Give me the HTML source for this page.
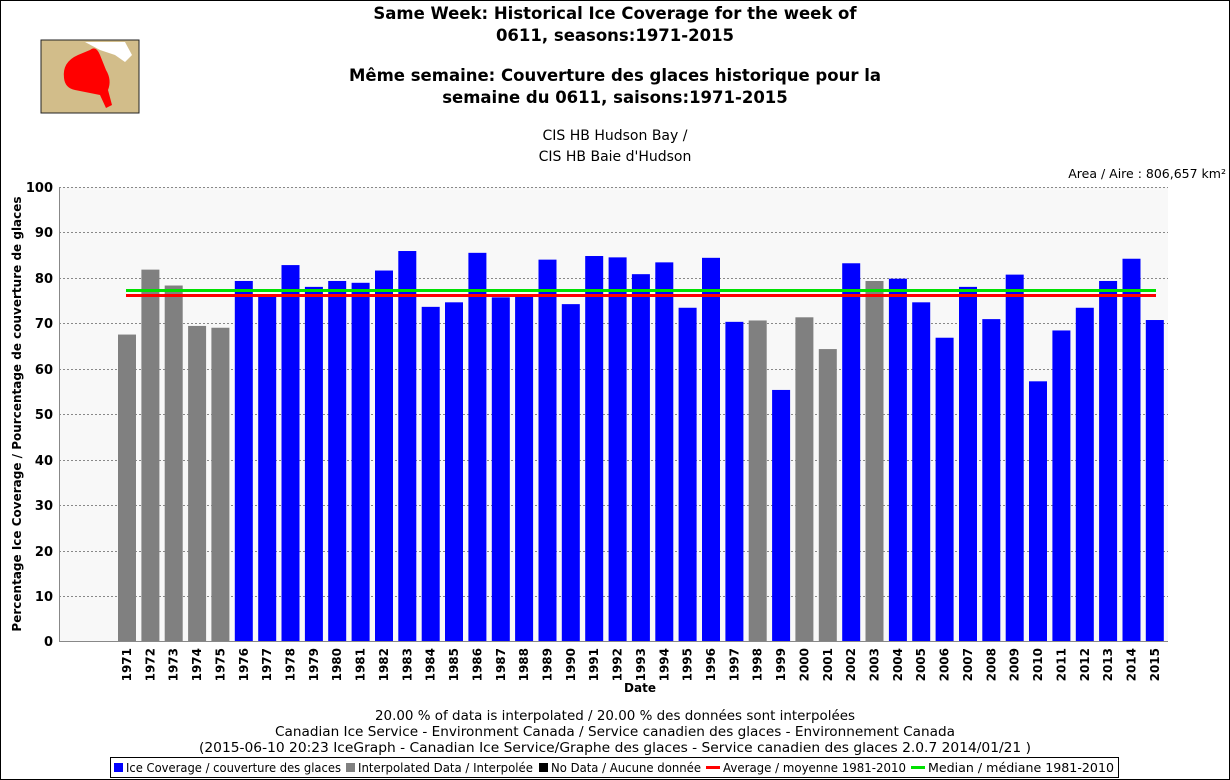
<!DOCTYPE html>
<html><head><meta charset="utf-8"><style>
html,body{margin:0;padding:0;background:#fff;}
svg{display:block;font-family:"DejaVu Sans","Liberation Sans",sans-serif;}
</style></head><body>
<svg width="1230" height="780" viewBox="0 0 1230 780" xmlns="http://www.w3.org/2000/svg">
<rect x="0.5" y="0.5" width="1229" height="779" fill="#fff" stroke="#000"/>
<!-- map icon -->
<rect x="41" y="40" width="98" height="73" fill="#d2bd8a" stroke="#222"/>
<path d="M64 78 Q62 62 78 55 L90 50 Q96 45 100 55 L106 70 Q112 80 108 90 L112 105 L106 108 L100 95 Q85 92 75 90 Q65 88 64 78Z" fill="#f00"/>
<path d="M85 42 L125 42 L132 55 L125 62 L115 55 L100 50 Z" fill="#fff"/>
<!-- titles -->
<g font-weight="bold" font-size="16.5" text-anchor="middle" fill="#000">
<text x="615" y="19">Same Week: Historical Ice Coverage for the week of</text>
<text x="615" y="41">0611, seasons:1971-2015</text>
<text x="615" y="81">Même semaine: Couverture des glaces historique pour la</text>
<text x="615" y="103">semaine du 0611, saisons:1971-2015</text>
</g>
<g font-size="14" text-anchor="middle" fill="#000">
<text x="615" y="140">CIS HB Hudson Bay /</text>
<text x="615" y="161">CIS HB Baie d'Hudson</text>
</g>
<text x="1226" y="178" font-size="12.5" text-anchor="end">Area / Aire : 806,657 km²</text>
<!-- plot -->
<rect x="59" y="187" width="1109" height="454" fill="#f8f8f8"/>
<g stroke="#888" stroke-dasharray="2,2" stroke-width="1">
<line x1="59" x2="1168" y1="187.5" y2="187.5"/><line x1="59" x2="1168" y1="232.5" y2="232.5"/>
<line x1="59" x2="1168" y1="278.5" y2="278.5"/><line x1="59" x2="1168" y1="323.5" y2="323.5"/>
<line x1="59" x2="1168" y1="369.5" y2="369.5"/><line x1="59" x2="1168" y1="414.5" y2="414.5"/>
<line x1="59" x2="1168" y1="460.5" y2="460.5"/><line x1="59" x2="1168" y1="505.5" y2="505.5"/>
<line x1="59" x2="1168" y1="551.5" y2="551.5"/><line x1="59" x2="1168" y1="596.5" y2="596.5"/>
</g>
<g font-size="13" font-weight="bold" text-anchor="end">
<text x="53" y="192">100</text><text x="53" y="237">90</text><text x="53" y="283">80</text>
<text x="53" y="328">70</text><text x="53" y="374">60</text><text x="53" y="419">50</text>
<text x="53" y="465">40</text><text x="53" y="510">30</text><text x="53" y="556">20</text>
<text x="53" y="601">10</text><text x="53" y="646">0</text>
</g>
<text transform="translate(21,414) rotate(-90)" font-size="12" font-weight="bold" text-anchor="middle">Percentage Ice Coverage / Pourcentage de couverture de glaces</text>
<g transform="translate(0,641) scale(1,-4.54)">
<g fill="#808080">
<rect x="118" y="0" width="18" height="67.5"/>
<rect x="141.4" y="0" width="18" height="81.8"/>
<rect x="164.7" y="0" width="18" height="78.3"/>
<rect x="188.1" y="0" width="18" height="69.4"/>
<rect x="211.4" y="0" width="18" height="69.0"/>
<rect x="748.7" y="0" width="18" height="70.6"/>
<rect x="795.4" y="0" width="18" height="71.3"/>
<rect x="818.8" y="0" width="18" height="64.3"/>
<rect x="865.5" y="0" width="18" height="79.3"/>
</g>
<g fill="#0000ff">
<rect x="234.8" y="0" width="18" height="79.3"/>
<rect x="258.2" y="0" width="18" height="75.8"/>
<rect x="281.5" y="0" width="18" height="82.8"/>
<rect x="304.9" y="0" width="18" height="78.0"/>
<rect x="328.2" y="0" width="18" height="79.3"/>
<rect x="351.6" y="0" width="18" height="78.9"/>
<rect x="375.0" y="0" width="18" height="81.6"/>
<rect x="398.3" y="0" width="18" height="85.9"/>
<rect x="421.7" y="0" width="18" height="73.6"/>
<rect x="445.0" y="0" width="18" height="74.6"/>
<rect x="468.4" y="0" width="18" height="85.5"/>
<rect x="491.8" y="0" width="18" height="75.7"/>
<rect x="515.1" y="0" width="18" height="76.2"/>
<rect x="538.5" y="0" width="18" height="84.0"/>
<rect x="561.8" y="0" width="18" height="74.2"/>
<rect x="585.2" y="0" width="18" height="84.8"/>
<rect x="608.6" y="0" width="18" height="84.5"/>
<rect x="631.9" y="0" width="18" height="80.8"/>
<rect x="655.3" y="0" width="18" height="83.4"/>
<rect x="678.6" y="0" width="18" height="73.4"/>
<rect x="702.0" y="0" width="18" height="84.4"/>
<rect x="725.4" y="0" width="18" height="70.3"/>
<rect x="772.1" y="0" width="18" height="55.3"/>
<rect x="842.2" y="0" width="18" height="83.2"/>
<rect x="888.9" y="0" width="18" height="79.8"/>
<rect x="912.2" y="0" width="18" height="74.6"/>
<rect x="935.6" y="0" width="18" height="66.8"/>
<rect x="959.0" y="0" width="18" height="78.0"/>
<rect x="982.3" y="0" width="18" height="70.9"/>
<rect x="1005.7" y="0" width="18" height="80.7"/>
<rect x="1029.0" y="0" width="18" height="57.2"/>
<rect x="1052.4" y="0" width="18" height="68.4"/>
<rect x="1075.8" y="0" width="18" height="73.4"/>
<rect x="1099.1" y="0" width="18" height="79.3"/>
<rect x="1122.5" y="0" width="18" height="84.2"/>
<rect x="1145.8" y="0" width="18" height="70.7"/>
</g>
</g>
<line x1="126" x2="1156" y1="290.5" y2="290.5" stroke="#00e000" stroke-width="3"/>
<line x1="126" x2="1156" y1="295.5" y2="295.5" stroke="#f00" stroke-width="3"/>
<line x1="59.5" x2="59.5" y1="187" y2="641" stroke="#888"/>
<line x1="59" x2="1168" y1="641.5" y2="641.5" stroke="#888"/>
<g font-size="12" font-weight="bold" text-anchor="end">
<text transform="translate(131,648) rotate(-90)">1971</text>
<text transform="translate(154.4,648) rotate(-90)">1972</text>
<text transform="translate(177.7,648) rotate(-90)">1973</text>
<text transform="translate(201.1,648) rotate(-90)">1974</text>
<text transform="translate(224.4,648) rotate(-90)">1975</text>
<text transform="translate(247.8,648) rotate(-90)">1976</text>
<text transform="translate(271.2,648) rotate(-90)">1977</text>
<text transform="translate(294.5,648) rotate(-90)">1978</text>
<text transform="translate(317.9,648) rotate(-90)">1979</text>
<text transform="translate(341.2,648) rotate(-90)">1980</text>
<text transform="translate(364.6,648) rotate(-90)">1981</text>
<text transform="translate(388,648) rotate(-90)">1982</text>
<text transform="translate(411.3,648) rotate(-90)">1983</text>
<text transform="translate(434.7,648) rotate(-90)">1984</text>
<text transform="translate(458,648) rotate(-90)">1985</text>
<text transform="translate(481.4,648) rotate(-90)">1986</text>
<text transform="translate(504.8,648) rotate(-90)">1987</text>
<text transform="translate(528.1,648) rotate(-90)">1988</text>
<text transform="translate(551.5,648) rotate(-90)">1989</text>
<text transform="translate(574.8,648) rotate(-90)">1990</text>
<text transform="translate(598.2,648) rotate(-90)">1991</text>
<text transform="translate(621.6,648) rotate(-90)">1992</text>
<text transform="translate(644.9,648) rotate(-90)">1993</text>
<text transform="translate(668.3,648) rotate(-90)">1994</text>
<text transform="translate(691.6,648) rotate(-90)">1995</text>
<text transform="translate(715,648) rotate(-90)">1996</text>
<text transform="translate(738.4,648) rotate(-90)">1997</text>
<text transform="translate(761.7,648) rotate(-90)">1998</text>
<text transform="translate(785.1,648) rotate(-90)">1999</text>
<text transform="translate(808.4,648) rotate(-90)">2000</text>
<text transform="translate(831.8,648) rotate(-90)">2001</text>
<text transform="translate(855.2,648) rotate(-90)">2002</text>
<text transform="translate(878.5,648) rotate(-90)">2003</text>
<text transform="translate(901.9,648) rotate(-90)">2004</text>
<text transform="translate(925.2,648) rotate(-90)">2005</text>
<text transform="translate(948.6,648) rotate(-90)">2006</text>
<text transform="translate(972,648) rotate(-90)">2007</text>
<text transform="translate(995.3,648) rotate(-90)">2008</text>
<text transform="translate(1018.7,648) rotate(-90)">2009</text>
<text transform="translate(1042,648) rotate(-90)">2010</text>
<text transform="translate(1065.4,648) rotate(-90)">2011</text>
<text transform="translate(1088.8,648) rotate(-90)">2012</text>
<text transform="translate(1112.1,648) rotate(-90)">2013</text>
<text transform="translate(1135.5,648) rotate(-90)">2014</text>
<text transform="translate(1158.8,648) rotate(-90)">2015</text>
</g>
<text x="640" y="692" font-size="12" font-weight="bold" text-anchor="middle">Date</text>
<g font-size="13" text-anchor="middle">
<text x="615" y="720" textLength="480" lengthAdjust="spacingAndGlyphs">20.00 % of data is interpolated / 20.00 % des données sont interpolées</text>
<text x="615" y="736" textLength="680" lengthAdjust="spacingAndGlyphs">Canadian Ice Service - Environment Canada / Service canadien des glaces - Environnement Canada</text>
<text x="615" y="752" textLength="832" lengthAdjust="spacingAndGlyphs">(2015-06-10 20:23 IceGraph - Canadian Ice Service/Graphe des glaces - Service canadien des glaces 2.0.7 2014/01/21 )</text>
</g>
<rect x="110.5" y="757.5" width="1008" height="20" fill="#fff" stroke="#000"/>
<g font-size="12">
<rect x="114" y="763" width="9" height="9" fill="#00f"/><text x="126" y="772" textLength="215" lengthAdjust="spacingAndGlyphs">Ice Coverage / couverture des glaces</text>
<rect x="346" y="763" width="9" height="9" fill="#808080"/><text x="358" y="772" textLength="175" lengthAdjust="spacingAndGlyphs">Interpolated Data / Interpolée</text>
<rect x="539" y="763" width="9" height="9" fill="#000"/><text x="551" y="772" textLength="150" lengthAdjust="spacingAndGlyphs">No Data / Aucune donnée</text>
<rect x="706" y="766" width="14" height="3" fill="#f00"/><text x="723" y="772" textLength="183" lengthAdjust="spacingAndGlyphs">Average / moyenne 1981-2010</text>
<rect x="911" y="766" width="14" height="3" fill="#00e000"/><text x="928" y="772" textLength="186" lengthAdjust="spacingAndGlyphs">Median / médiane 1981-2010</text>
</g>
</svg>
</body></html>
